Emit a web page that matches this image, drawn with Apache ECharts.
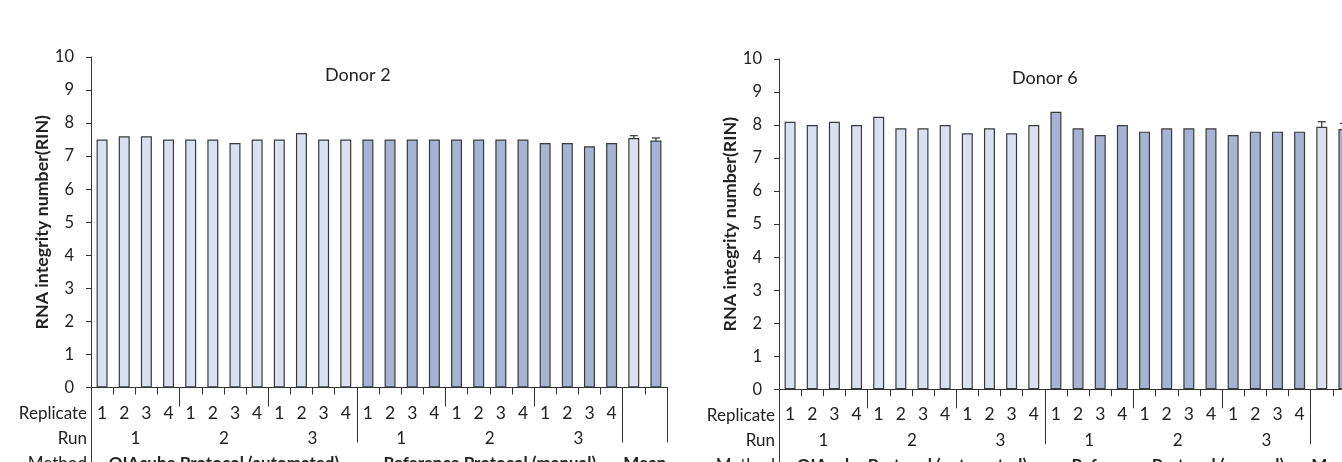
<!DOCTYPE html>
<html lang="en">
<head>
<meta charset="UTF-8">
<title>RNA integrity number</title>
<style>
    html, body { margin: 0; padding: 0; overflow: hidden; background: #fff; }
    .box { width: 1360px; height: 462px; }
</style>
</head>
<body>
<div class="box" id="box"></div>
<script src="https://cdn.jsdelivr.net/npm/echarts@6/dist/echarts.min.js"></script>
<script>
// data
var replicateLabels = ['1','2','3','4','1','2','3','4','1','2','3','4',
                       '1','2','3','4','1','2','3','4','1','2','3','4','',''];
var runLabels = ['1','2','3','1','2','3'];
var methodLabels = ['QIAcube Protocol (automated)', 'Reference Protocol (manual)', 'Mean'];
var methodSpans = [12, 12, 2];
var panelTitles = ['Donor 2', 'Donor 6'];

var donor2Qiacube   = [7.5, 7.6, 7.6, 7.5, 7.5, 7.5, 7.4, 7.5, 7.5, 7.7, 7.5, 7.5];
var donor2Reference = [7.5, 7.5, 7.5, 7.5, 7.5, 7.5, 7.5, 7.5, 7.4, 7.4, 7.3, 7.4];
var donor2Mean = [7.55, 7.47];
var donor2Sd   = [0.07, 0.08];

var donor6Qiacube   = [8.1, 8.0, 8.1, 8.0, 8.25, 7.9, 7.9, 8.0, 7.75, 7.9, 7.75, 8.0];
var donor6Reference = [8.4, 7.9, 7.7, 8.0, 7.8, 7.9, 7.9, 7.9, 7.7, 7.8, 7.8, 7.8];
var donor6Mean = [7.95, 7.88];
var donor6Sd   = [0.15, 0.17];

var lightColor = '#d9e0ee';
var darkColor = '#a6b3d2';
var inkColor = '#333';
var font = 'Lato';

var nCat = replicateLabels.length;
// group centres / boundaries in category units
var runCenters = runLabels.map(function (r, i) { return 2 + 4 * i; });
var methodCenters = [];
var methodEdges = [];
var acc = 0;
methodSpans.forEach(function (s) { methodCenters.push(acc + s / 2); acc += s; methodEdges.push(acc); });
var runEdges = [];
for (var k = 4; k < 24; k += 4) { if (methodEdges.indexOf(k) < 0) runEdges.push(k); }

var myChart = echarts.init(document.getElementById('box'));

// outerBoundsMode none: the table rows are meant to run off the bottom edge
var grids = [
    { left: 91, top: 57, width: 576, height: 330.5, outerBoundsMode: 'none', containLabel: false },
    { left: 779, top: 59, width: 576, height: 330.3, outerBoundsMode: 'none', containLabel: false }
];

function tickAxis(g, values, len) {
    return {
        gridIndex: g, type: 'value', min: 0, max: nCat, position: 'bottom',
        axisLine: { show: false },
        axisTick: { show: true, customValues: values, length: len, lineStyle: { color: inkColor, width: 1 } },
        axisLabel: { show: false },
        splitLine: { show: false }
    };
}

function rowAxis(g, offset, name, centers, labels, bold) {
    return {
        gridIndex: g, type: 'value', min: 0, max: nCat, position: 'bottom', offset: offset,
        name: name, nameLocation: 'start', nameGap: 4,
        nameTextStyle: { fontFamily: font, fontSize: 17, color: '#222', align: 'right', verticalAlign: 'middle' },
        axisLine: { show: false },
        axisTick: { show: false },
        splitLine: { show: false },
        axisLabel: {
            show: centers.length > 0,
            customValues: centers,
            margin: 0,
            verticalAlign: 'middle',
            fontFamily: font, fontSize: 17, color: '#222',
            fontWeight: bold ? 'bold' : 'normal',
            formatter: function (v) {
                var i = centers.indexOf(v);
                return i < 0 ? '' : labels[i];
            }
        }
    };
}

var xAxes = [], yAxes = [], series = [], titles = [];
var panels = [
    { qia: donor2Qiacube, ref: donor2Reference, mean: donor2Mean, sd: donor2Sd },
    { qia: donor6Qiacube, ref: donor6Reference, mean: donor6Mean, sd: donor6Sd }
];

panels.forEach(function (p, g) {
    var base = xAxes.length;
    xAxes.push({
        gridIndex: g, type: 'category', data: replicateLabels, position: 'bottom',
        axisLine: { show: true, lineStyle: { color: inkColor, width: 1 } },
        axisTick: { show: true, length: 7, lineStyle: { color: inkColor } },
        axisLabel: { interval: 0, margin: 25.5, verticalAlign: 'middle', fontFamily: font, fontSize: 17.5, color: '#222' }
    });
    xAxes.push(tickAxis(g, runEdges, 19));
    xAxes.push(tickAxis(g, methodEdges, 55));
    xAxes.push(tickAxis(g, [0], 90));
    xAxes.push(rowAxis(g, 26, 'Replicate', [], []));
    xAxes.push(rowAxis(g, 51, 'Run', runCenters, runLabels, false));
    xAxes.push(rowAxis(g, 76, 'Method', methodCenters, methodLabels, true));

    yAxes.push({
        gridIndex: g, type: 'value', min: 0, max: 10, interval: 1,
        name: 'RNA integrity number(RIN)', nameLocation: 'middle', nameGap: 39,
        nameTextStyle: { fontFamily: font, fontSize: 17.8, fontWeight: 'bold', color: '#222' },
        axisLine: { show: true, lineStyle: { color: inkColor, width: 1 } },
        axisTick: { show: true, length: 5, lineStyle: { color: inkColor } },
        axisLabel: { margin: 17, fontFamily: font, fontSize: 16.5, color: '#222' },
        splitLine: { show: false }
    });

    var light = [], dark = [];
    for (var i = 0; i < nCat; i++) { light.push('-'); dark.push('-'); }
    p.qia.forEach(function (v, i) { light[i] = v; });
    p.ref.forEach(function (v, i) { dark[12 + i] = v; });
    light[24] = p.mean[0];
    dark[25] = p.mean[1];

    var barStyle = function (c) { return { color: c, borderColor: '#3a3a3a', borderWidth: 1.2 }; };
    series.push({
        type: 'bar', xAxisIndex: base, yAxisIndex: g, data: light, barWidth: 11, barGap: '-100%',
        itemStyle: barStyle(lightColor), z: 2
    });
    series.push({
        type: 'bar', xAxisIndex: base, yAxisIndex: g, data: dark, barWidth: 11, barGap: '-100%',
        itemStyle: barStyle(darkColor), z: 2
    });
    series.push({
        type: 'custom', xAxisIndex: base, yAxisIndex: g, z: 1,
        data: [[24, p.mean[0], p.sd[0]], [25, p.mean[1], p.sd[1]]],
        encode: { x: 0, y: 1 },
        renderItem: function (params, api) {
            var top = api.coord([api.value(0), api.value(1) + api.value(2)]);
            var bot = api.coord([api.value(0), api.value(1) - api.value(2)]);
            var st = { stroke: inkColor, lineWidth: 1.2 };
            return {
                type: 'group', children: [
                    { type: 'line', shape: { x1: top[0], y1: top[1], x2: bot[0], y2: bot[1] }, style: st },
                    { type: 'line', shape: { x1: top[0] - 4, y1: top[1], x2: top[0] + 4, y2: top[1] }, style: st }
                ]
            };
        }
    });
});

titles.push({ text: panelTitles[0], left: 325, top: 66, padding: 0, textStyle: { fontFamily: font, fontSize: 18, fontWeight: 'normal', color: '#222' } });
titles.push({ text: panelTitles[1], left: 1012, top: 69, padding: 0, textStyle: { fontFamily: font, fontSize: 18, fontWeight: 'normal', color: '#222' } });

var option = {
    animation: false,
    title: titles,
    grid: grids,
    xAxis: xAxes,
    yAxis: yAxes,
    series: series
};
myChart.setOption(option);
</script>
</body>
</html>
